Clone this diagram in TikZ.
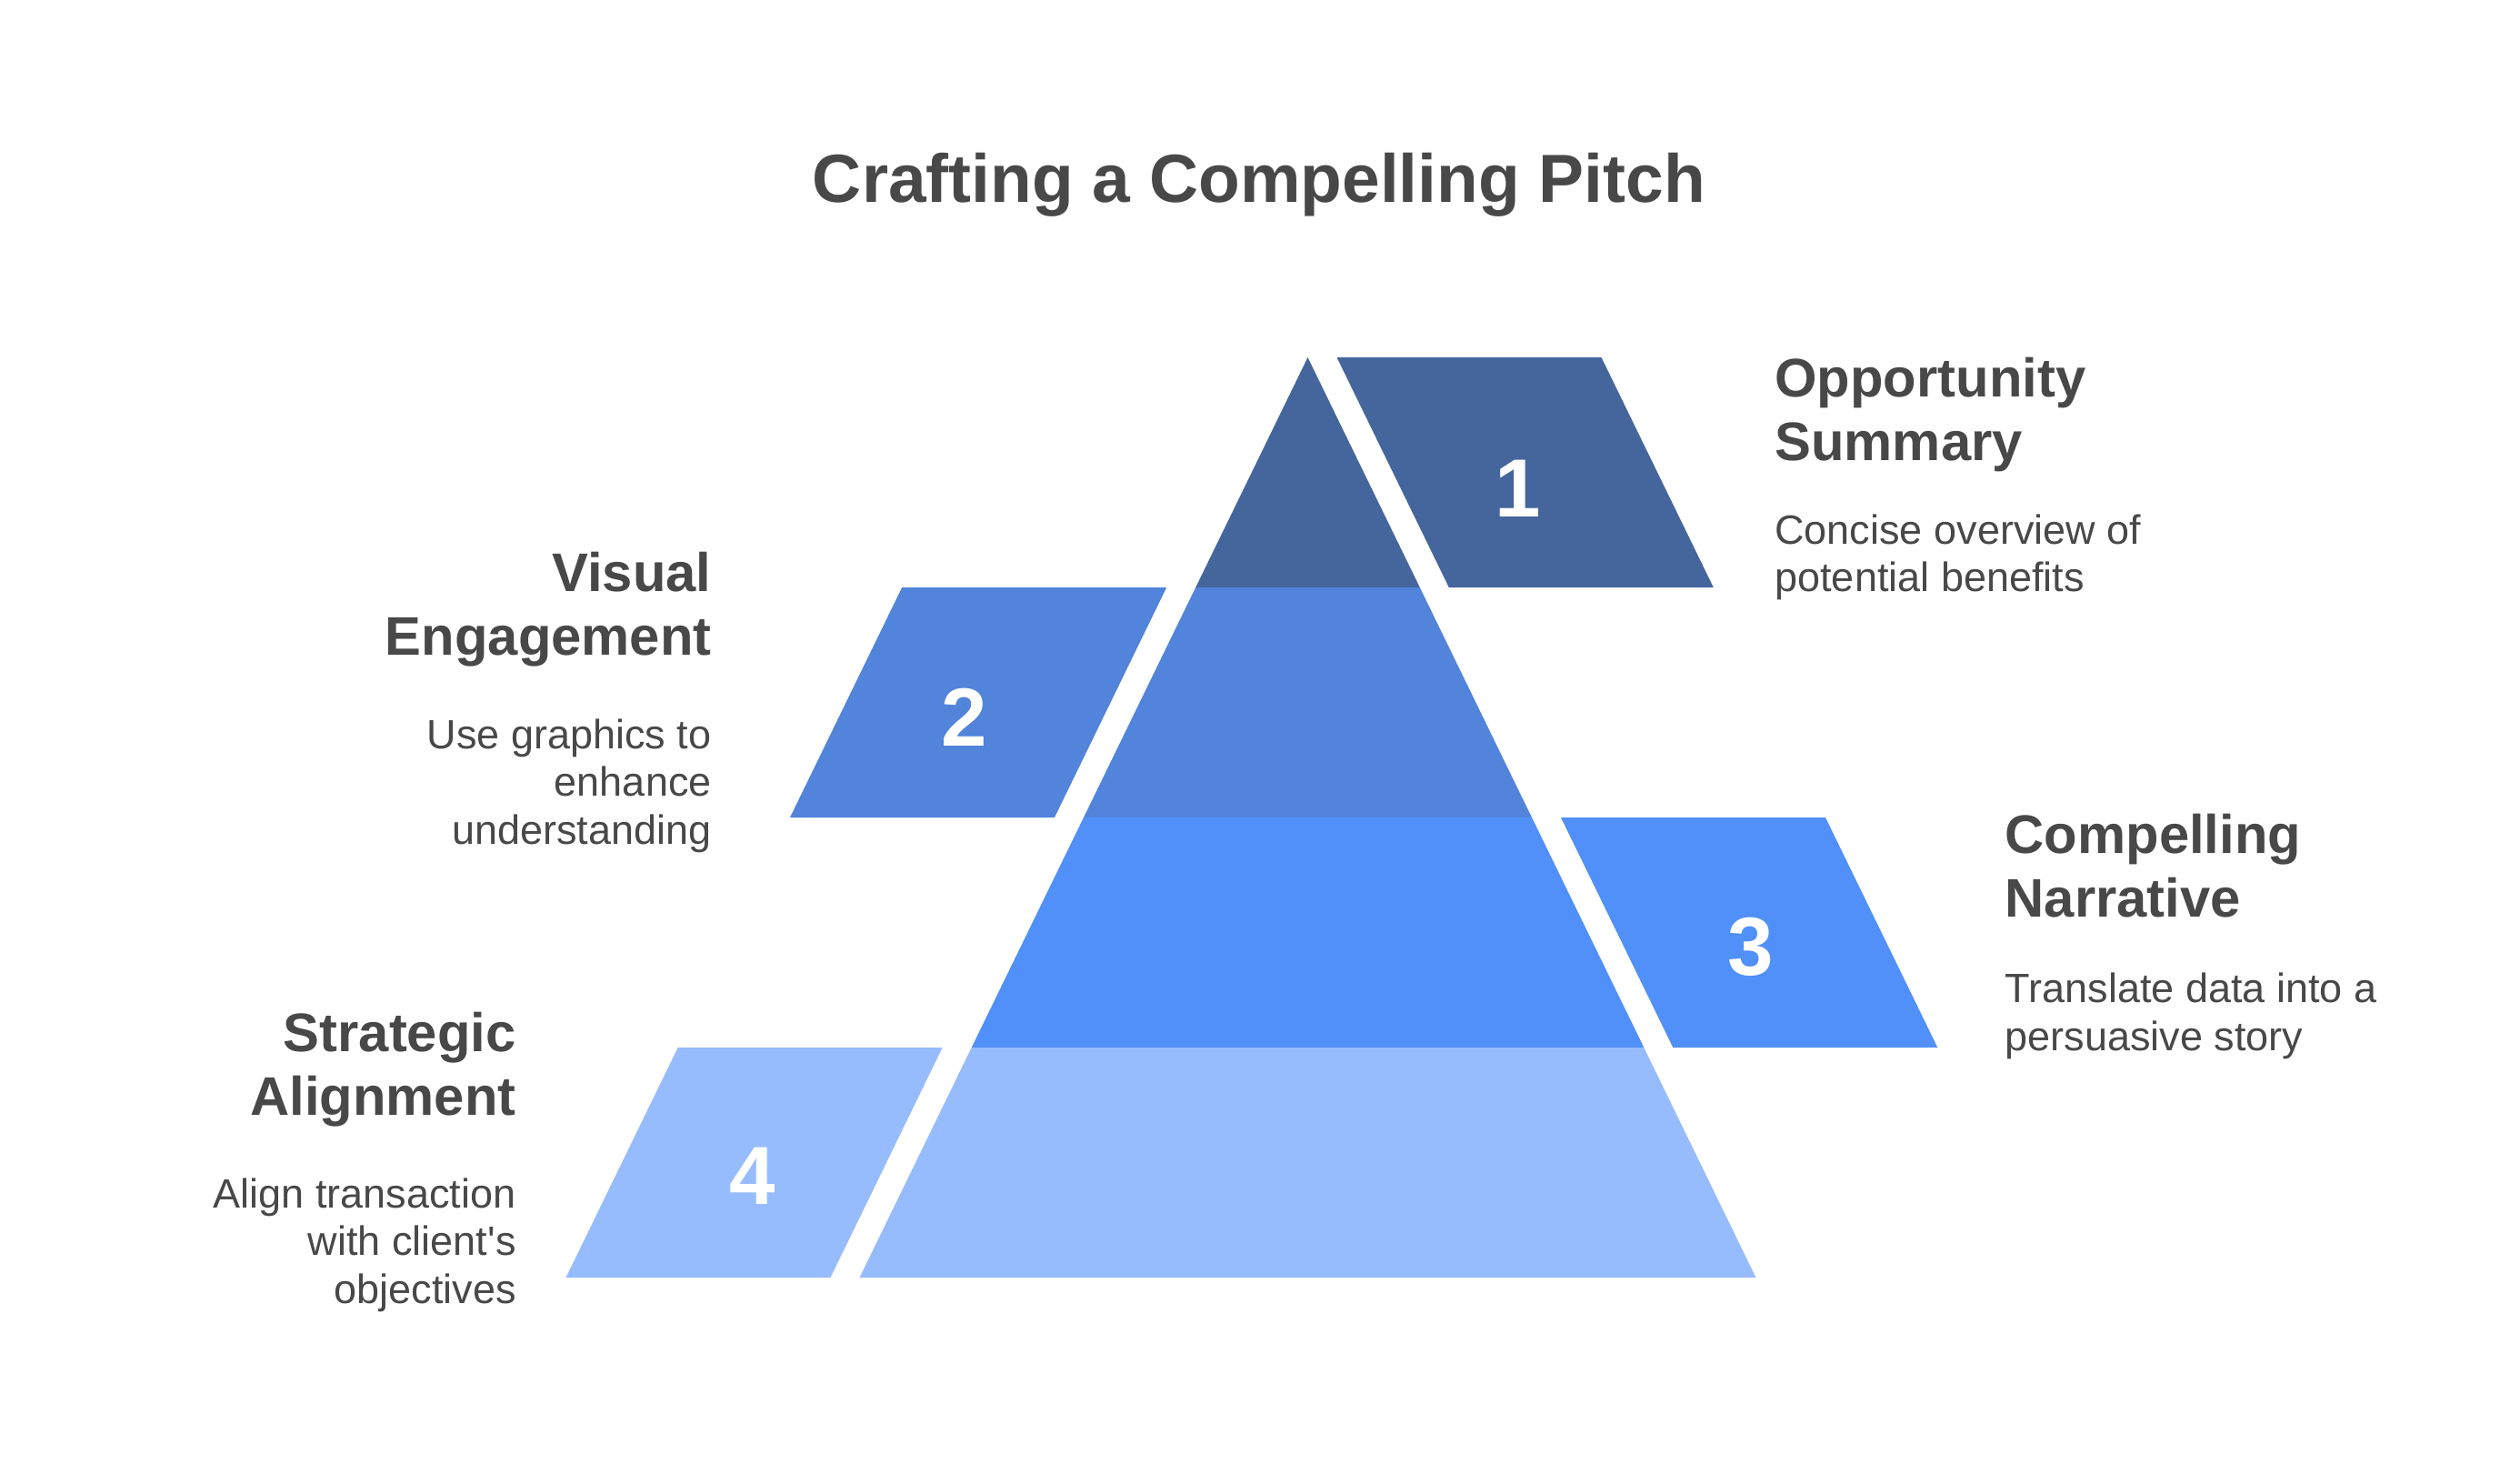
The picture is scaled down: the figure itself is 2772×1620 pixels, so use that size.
\documentclass[tikz,border=0pt]{standalone}
\usepackage{fontspec}
\setmainfont{Liberation Sans}

\definecolor{tierone}{RGB}{68,102,156}
\definecolor{tiertwo}{RGB}{81,132,218}
\definecolor{tierthree}{RGB}{80,144,248}
\definecolor{tierfour}{RGB}{151,188,253}
\definecolor{inkgray}{RGB}{72,72,72}

\begin{document}
\begin{tikzpicture}[
        x=0.01cm, y=-0.01cm,
        title/.style={
            font=\fontsize{21.3}{26}\selectfont\bfseries,
            text=inkgray, inner sep=0pt, anchor=base
        },
        heading/.style={
            font=\fontsize{17}{19.9}\selectfont\bfseries,
            text=inkgray, inner sep=0pt
        },
        desc/.style={
            font=\fontsize{12.8}{14.9}\selectfont,
            text=inkgray, inner sep=0pt
        },
        num/.style={
            font=\fontsize{25.8}{30}\selectfont\bfseries,
            text=white, inner sep=0pt
        },
        leftside/.style={align=right, anchor=base east},
        rightside/.style={align=left, anchor=base west}
    ]
    \useasboundingbox (0,0) rectangle (2772,1620);

    \node[title] (title) at (1385,222.7) {Crafting a Compelling Pitch};

    % pyramid tiers
    \fill[tierone] (1438.5,393) -- (1561.8,646) -- (1315.2,646) -- cycle;
    \fill[tiertwo] (1315.2,646) -- (1561.8,646) -- (1685,899) -- (1192,899) -- cycle;
    \fill[tierthree] (1192,899) -- (1685,899) -- (1808.3,1152) -- (1068.7,1152) -- cycle;
    \fill[tierfour] (1068.7,1152) -- (1808.3,1152) -- (1931.5,1405) -- (945.5,1405) -- cycle;

    % side tabs
    \fill[tierone] (1470.5,393) -- (1761.5,393) -- (1884.8,646) -- (1593.8,646) -- cycle;
    \fill[tiertwo] (992.2,646) -- (1283.2,646) -- (1160,899) -- (869,899) -- cycle;
    \fill[tierthree] (1717,899) -- (2008,899) -- (2131.3,1152) -- (1840.3,1152) -- cycle;
    \fill[tierfour] (745.7,1152) -- (1036.7,1152) -- (913.5,1405) -- (622.5,1405) -- cycle;

    \node[num] (numsummary) at (1670,537) {1};
    \node[num] (numvisual) at (1061,789) {2};
    \node[num] (numnarrative) at (1926,1041) {3};
    \node[num] (numalign) at (828,1293) {4};

    % base anchor sits on the last line
    \node[heading, rightside] (summaryhead) at (1951.7,506.7) {Opportunity\\Summary};
    \node[desc, rightside] (summarytext) at (1951.7,650.7) {Concise overview of\\potential benefits};

    \node[heading, leftside] (visualhead) at (783.3,720) {Visual\\Engagement};
    \node[desc, leftside] (visualtext) at (783.3,928) {Use graphics to\\enhance\\understanding};

    \node[heading, rightside] (narrativehead) at (2205,1008) {Compelling\\Narrative};
    \node[desc, rightside] (narrativetext) at (2205,1155) {Translate data into a\\persuasive story};

    \node[heading, leftside] (alignhead) at (568.3,1226.7) {Strategic\\Alignment};
    \node[desc, leftside] (aligntext) at (568.3,1433.3) {Align transaction\\with client\textquotesingle s\\objectives};

\end{tikzpicture}
\end{document}
